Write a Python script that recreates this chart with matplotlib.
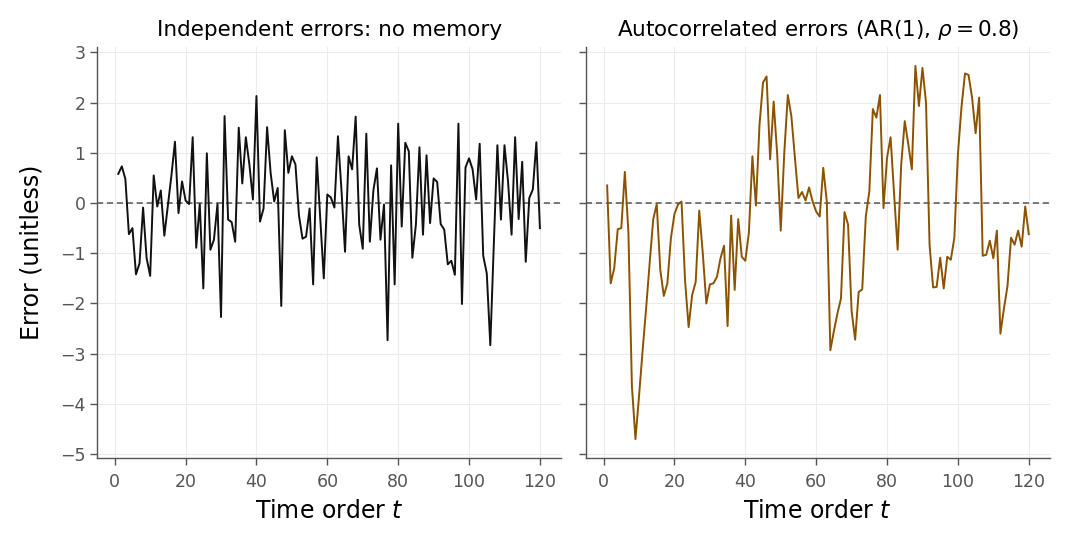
import numpy as np
import matplotlib
matplotlib.use("Agg")
import matplotlib.pyplot as plt

# time index
t = np.arange(1, 121)

# independent errors
indep_err = [
    0.58, 0.73, 0.48, -0.62, -0.50, -1.42, -1.20, -0.09, -1.10, -1.45,
    0.55, -0.07, 0.25, -0.65, -0.05, 0.55, 1.22, -0.20, 0.43, 0.05,
    -0.02, 1.31, -0.89, -0.02, -1.70, 0.99, -0.93, -0.73, -0.02, -2.27,
    1.73, -0.33, -0.38, -0.77, 1.50, 0.39, 1.31, 0.77, 0.07, 2.13,
    -0.37, -0.11, 1.51, 0.60, 0.03, 0.30, -2.05, 1.45, 0.60, 0.93,
    0.77, -0.25, -0.71, -0.67, -0.11, -1.62, 0.91, -0.30, -1.50, 0.17,
    0.11, -0.09, 1.33, 0.25, -0.97, 0.93, 0.67, 1.72, -0.43, -0.91,
    1.38, -0.77, 0.25, 0.69, -0.73, -0.03, -2.73, 0.75, -1.62, 1.58,
    -0.47, 1.20, 1.03, -1.09, -0.43, 1.11, -0.63, 0.95, -0.40, 0.49,
    0.42, -0.42, -0.53, -1.22, -1.15, -1.43, 1.58, -2.01, 0.71, 0.89,
    0.67, 0.07, 1.18, -1.05, -1.40, -2.83, -0.80, 1.15, -0.33, 1.15,
    0.43, -0.63, 1.31, -0.32, 0.82, -1.17, 0.10, 0.27, 1.21, -0.50,
]

# AR(1) errors, rho = 0.8
ar1_err = [
    0.35, -1.60, -1.30, -0.52, -0.50, 0.62, -0.57, -3.65, -4.70, -3.85,
    -2.95, -2.10, -1.20, -0.33, -0.02, -1.33, -1.85, -1.60, -0.70, -0.22,
    -0.03, 0.03, -1.55, -2.47, -1.83, -1.57, -0.15, -1.00, -2.00, -1.62,
    -1.60, -1.47, -1.10, -0.85, -2.45, -0.25, -1.73, -0.32, -1.07, -1.15,
    -0.60, 0.93, -0.05, 1.55, 2.40, 2.52, 0.87, 2.02, 0.97, -0.55,
    1.00, 2.15, 1.73, 0.90, 0.10, 0.22, 0.05, 0.31, 0.03, -0.17,
    -0.27, 0.70, 0.03, -2.93, -2.55, -2.20, -1.90, -0.18, -0.43, -2.15,
    -2.72, -1.77, -1.72, -0.27, 0.23, 1.87, 1.70, 2.15, -0.10, 0.90,
    1.31, 0.17, -0.93, 0.77, 1.63, 1.17, 0.67, 2.73, 1.93, 2.69,
    2.00, -0.83, -1.68, -1.67, -1.09, -1.70, -1.07, -1.13, -0.69, 0.97,
    1.90, 2.58, 2.55, 2.10, 1.39, 2.10, -1.05, -1.03, -0.75, -1.10,
    -0.55, -2.60, -2.10, -1.65, -0.69, -0.83, -0.55, -0.87, -0.07, -0.62,
]

titles = ["Independent errors: no memory", r"Autocorrelated errors (AR(1), $\rho = 0.8$)"]
colors = ["#111111", "#8B5300"]

fig, axes = plt.subplots(1, 2, figsize=(10.68, 5.43), dpi=100, sharey=True)
fig.subplots_adjust(left=0.091, right=0.983, top=0.913, bottom=0.157, wspace=0.054)

for ax, y, title, c in zip(axes, [indep_err, ar1_err], titles, colors):
    ax.plot(t, y, color=c, lw=1.4, zorder=3)
    ax.axhline(0, color="#555555", lw=1.1, ls=(0, (4, 2.5)), zorder=2)
    ax.set_title(title, fontsize=15.5, pad=8)
    ax.set_xlabel("Time order $t$", fontsize=17, labelpad=6)
    ax.grid(True, color="#ebebeb", lw=0.8, zorder=0)
    ax.set_axisbelow(True)
    for side in ["top", "right"]:
        ax.spines[side].set_visible(False)
    for side in ["left", "bottom"]:
        ax.spines[side].set_color("#555555")
        ax.spines[side].set_linewidth(1.0)
    ax.tick_params(axis="both", labelsize=12.5, colors="#555555", length=5, width=1)
    ax.tick_params(axis="x", pad=6)
    ax.set_yticks(range(-5, 4))
    ax.set_xticks(range(0, 121, 20))

axes[0].set_ylabel("Error (unitless)", fontsize=17, labelpad=12)
axes[1].tick_params(axis="y", labelleft=False)

fig.savefig("out.png", dpi=100)
